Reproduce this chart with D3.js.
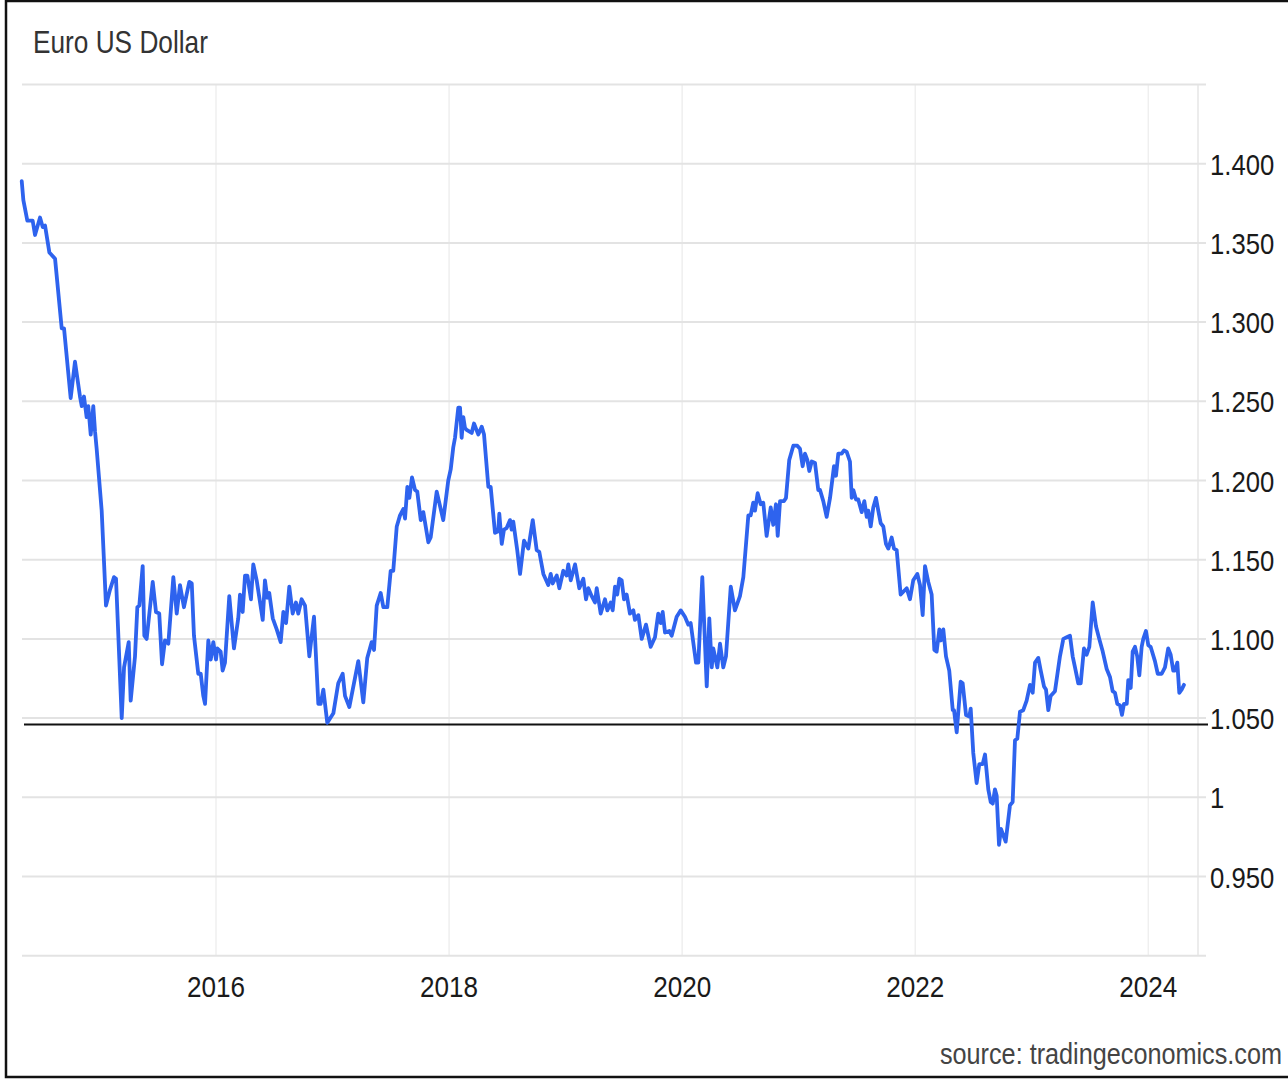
<!DOCTYPE html>
<html lang="en">
  <head>
    <meta charset="utf-8" />
    <title>Euro US Dollar</title>
    <script src="https://cdnjs.cloudflare.com/ajax/libs/d3/7.8.5/d3.min.js"></script>
    <style>
      body {
        margin: 0;
        background: #fff;
        font-family: "Liberation Sans", Arial, sans-serif;
      }
    </style>
  </head>
  <body>
    <div id="chart"></div>
    <script>
      // decimal years and EUR/USD close
      const years = [
        2014.333, 2014.347, 2014.381, 2014.427, 2014.447, 2014.49, 2014.513, 2014.533, 2014.57, 2014.619,
        2014.676, 2014.696, 2014.753, 2014.79, 2014.833, 2014.848, 2014.867, 2014.89, 2014.904, 2014.925,
        2014.947, 2014.962, 2014.976, 2015.019, 2015.056, 2015.09, 2015.125, 2015.142, 2015.191, 2015.211,
        2015.251, 2015.268, 2015.305, 2015.325, 2015.342, 2015.371, 2015.385, 2015.405, 2015.457, 2015.485,
        2015.513, 2015.537, 2015.562, 2015.591, 2015.634, 2015.663, 2015.691, 2015.725, 2015.771, 2015.792,
        2015.811, 2015.848, 2015.869, 2015.891, 2015.906, 2015.934, 2015.955, 2015.977, 2016.0, 2016.011,
        2016.04, 2016.057, 2016.077, 2016.114, 2016.154, 2016.191, 2016.206, 2016.229, 2016.249, 2016.269,
        2016.3, 2016.32, 2016.349, 2016.401, 2016.42, 2016.44, 2016.457, 2016.487, 2016.521, 2016.555,
        2016.578, 2016.601, 2016.629, 2016.658, 2016.686, 2016.706, 2016.735, 2016.764, 2016.801, 2016.841,
        2016.878, 2016.898, 2016.921, 2016.955, 2017.007, 2017.049, 2017.087, 2017.107, 2017.144, 2017.221,
        2017.264, 2017.298, 2017.336, 2017.356, 2017.379, 2017.413, 2017.436, 2017.47, 2017.499, 2017.521,
        2017.551, 2017.579, 2017.607, 2017.622, 2017.642, 2017.659, 2017.682, 2017.708, 2017.727, 2017.757,
        2017.779, 2017.822, 2017.842, 2017.894, 2017.95, 2017.993, 2018.014, 2018.036, 2018.051, 2018.079,
        2018.094, 2018.108, 2018.122, 2018.137, 2018.151, 2018.194, 2018.214, 2018.251, 2018.28, 2018.3,
        2018.337, 2018.357, 2018.394, 2018.422, 2018.431, 2018.452, 2018.471, 2018.494, 2018.523, 2018.537,
        2018.551, 2018.585, 2018.609, 2018.643, 2018.68, 2018.718, 2018.752, 2018.774, 2018.809, 2018.851,
        2018.872, 2018.889, 2018.924, 2018.946, 2018.98, 2019.009, 2019.023, 2019.044, 2019.081, 2019.117,
        2019.152, 2019.175, 2019.195, 2019.224, 2019.252, 2019.267, 2019.301, 2019.338, 2019.358, 2019.387,
        2019.404, 2019.424, 2019.443, 2019.461, 2019.481, 2019.501, 2019.524, 2019.552, 2019.581, 2019.595,
        2019.624, 2019.653, 2019.69, 2019.73, 2019.767, 2019.795, 2019.816, 2019.833, 2019.853, 2019.89,
        2019.91, 2019.953, 2019.988, 2020.024, 2020.053, 2020.073, 2020.119, 2020.139, 2020.173, 2020.211,
        2020.233, 2020.254, 2020.267, 2020.302, 2020.325, 2020.353, 2020.376, 2020.417, 2020.453, 2020.496,
        2020.525, 2020.568, 2020.588, 2020.61, 2020.625, 2020.648, 2020.674, 2020.696, 2020.725, 2020.76,
        2020.782, 2020.805, 2020.82, 2020.84, 2020.874, 2020.891, 2020.919, 2020.954, 2020.988, 2021.011,
        2021.034, 2021.054, 2021.074, 2021.091, 2021.112, 2021.14, 2021.168, 2021.183, 2021.211, 2021.24,
        2021.269, 2021.303, 2021.32, 2021.34, 2021.369, 2021.389, 2021.412, 2021.44, 2021.455, 2021.469,
        2021.492, 2021.511, 2021.541, 2021.563, 2021.584, 2021.597, 2021.618, 2021.64, 2021.663, 2021.683,
        2021.704, 2021.726, 2021.749, 2021.769, 2021.798, 2021.818, 2021.841, 2021.875, 2021.927, 2021.955,
        2021.983, 2022.018, 2022.041, 2022.064, 2022.084, 2022.112, 2022.141, 2022.164, 2022.184, 2022.207,
        2022.221, 2022.241, 2022.264, 2022.292, 2022.322, 2022.333, 2022.356, 2022.39, 2022.407, 2022.436,
        2022.464, 2022.476, 2022.498, 2022.527, 2022.55, 2022.579, 2022.599, 2022.627, 2022.648, 2022.665,
        2022.684, 2022.699, 2022.719, 2022.736, 2022.776, 2022.813, 2022.836, 2022.856, 2022.876, 2022.899,
        2022.927, 2022.956, 2022.985, 2023.008, 2023.028, 2023.056, 2023.077, 2023.105, 2023.122, 2023.142,
        2023.162, 2023.199, 2023.242, 2023.271, 2023.3, 2023.328, 2023.351, 2023.371, 2023.399, 2023.42,
        2023.448, 2023.471, 2023.494, 2023.523, 2023.551, 2023.579, 2023.609, 2023.643, 2023.671, 2023.694,
        2023.714, 2023.734, 2023.757, 2023.774, 2023.791, 2023.815, 2023.828, 2023.849, 2023.866, 2023.886,
        2023.905, 2023.923, 2023.943, 2023.957, 2023.98, 2024.0, 2024.02, 2024.057, 2024.081, 2024.115,
        2024.143, 2024.171, 2024.192, 2024.214, 2024.229, 2024.249, 2024.266, 2024.286, 2024.306
      ];
      const rates = [
        1.389, 1.377, 1.364, 1.364, 1.355, 1.366, 1.36, 1.361, 1.344, 1.34,
        1.296, 1.296, 1.252, 1.275, 1.253, 1.247, 1.253, 1.24, 1.247, 1.229,
        1.247, 1.231, 1.22, 1.181, 1.121, 1.131, 1.139, 1.138, 1.05, 1.082,
        1.098, 1.061, 1.089, 1.12, 1.121, 1.146, 1.102, 1.1, 1.136, 1.117,
        1.116, 1.084, 1.099, 1.097, 1.139, 1.116, 1.134, 1.12, 1.136, 1.135,
        1.102, 1.078, 1.078, 1.064, 1.059, 1.099, 1.087, 1.098, 1.087, 1.094,
        1.092, 1.08, 1.085, 1.127, 1.094, 1.113, 1.128, 1.117, 1.14, 1.14,
        1.125, 1.147, 1.137, 1.112, 1.137, 1.126, 1.129, 1.113, 1.106, 1.098,
        1.117, 1.11, 1.133, 1.116, 1.123, 1.116, 1.125, 1.121, 1.089, 1.114,
        1.059, 1.059, 1.068, 1.047, 1.053, 1.072, 1.078, 1.064, 1.057, 1.086,
        1.06, 1.088, 1.098, 1.093, 1.121, 1.129, 1.12, 1.12, 1.143, 1.143,
        1.171, 1.178, 1.182, 1.176, 1.196, 1.189, 1.202, 1.194, 1.193, 1.175,
        1.18, 1.161, 1.164, 1.193, 1.175, 1.2, 1.207, 1.221, 1.227, 1.246,
        1.246, 1.227, 1.24, 1.233, 1.232, 1.23, 1.236, 1.229, 1.234, 1.229,
        1.196, 1.196, 1.167, 1.168, 1.179, 1.16, 1.169, 1.17, 1.175, 1.169,
        1.174, 1.156, 1.141, 1.162, 1.157, 1.175, 1.156, 1.155, 1.141, 1.134,
        1.141, 1.135, 1.14, 1.132, 1.143, 1.14, 1.147, 1.137, 1.147, 1.132,
        1.138, 1.125, 1.132, 1.127, 1.123, 1.132, 1.116, 1.125, 1.118, 1.123,
        1.118, 1.133, 1.128, 1.138, 1.137, 1.125, 1.128, 1.116, 1.118, 1.112,
        1.115, 1.1, 1.109, 1.095, 1.101, 1.116, 1.11, 1.117, 1.104, 1.105,
        1.102, 1.114, 1.118, 1.114, 1.109, 1.11, 1.085, 1.085, 1.139, 1.07,
        1.113, 1.082, 1.094, 1.082, 1.097, 1.082, 1.089, 1.133, 1.118, 1.127,
        1.139, 1.178, 1.178, 1.186, 1.181, 1.192, 1.185, 1.186, 1.165, 1.183,
        1.172, 1.185, 1.165, 1.187, 1.187, 1.189, 1.213, 1.222, 1.222, 1.22,
        1.209, 1.217, 1.213, 1.206, 1.212, 1.211, 1.194, 1.194, 1.187, 1.177,
        1.189, 1.209, 1.203, 1.217, 1.217, 1.219, 1.218, 1.212, 1.189, 1.194,
        1.188, 1.188, 1.18, 1.187, 1.177, 1.181, 1.171, 1.183, 1.189, 1.181,
        1.173, 1.171, 1.16, 1.157, 1.164, 1.157, 1.156, 1.128, 1.132, 1.125,
        1.137, 1.141, 1.134, 1.115, 1.146, 1.136, 1.128, 1.093, 1.092, 1.106,
        1.099, 1.106, 1.089, 1.08, 1.055, 1.055, 1.041, 1.073, 1.072, 1.052,
        1.051, 1.056, 1.028, 1.009, 1.021, 1.021, 1.027, 1.005, 0.997, 0.996,
        1.005, 1.001, 0.97, 0.98, 0.972, 0.995, 0.997, 1.036, 1.037, 1.054,
        1.055, 1.061, 1.071, 1.066, 1.085, 1.088, 1.08, 1.07, 1.068, 1.055,
        1.064, 1.067, 1.089, 1.1, 1.101, 1.102, 1.089, 1.082, 1.072, 1.072,
        1.094, 1.09, 1.095, 1.123, 1.108, 1.1, 1.092, 1.081, 1.076, 1.067,
        1.066, 1.059, 1.058, 1.052, 1.059, 1.059, 1.074, 1.069, 1.092, 1.095,
        1.089, 1.077, 1.095, 1.1, 1.105, 1.096, 1.095, 1.086, 1.078, 1.078,
        1.082, 1.094, 1.09, 1.08, 1.08, 1.085, 1.066, 1.068, 1.071
      ];
      const gridValues = [0.9, 0.95, 1, 1.05, 1.1, 1.15, 1.2, 1.25, 1.3, 1.35, 1.4, 1.45];
      const yTickValues = [0.95, 1, 1.05, 1.1, 1.15, 1.2, 1.25, 1.3, 1.35, 1.4];
      const xTickValues = [2016, 2018, 2020, 2022, 2024];
      const refLevel = 1.046;

      const W = 1288, H = 1079;
      const plotLeft = 22, plotRight = 1198, plotTop = 84.5, plotBottom = 955.7;
      const squeeze = 0.87;

      const svg = d3.select("#chart").append("svg")
        .attr("width", W).attr("height", H);

      const x = d3.scaleLinear().domain([2016, 2024]).range([216, 1148.3]);
      const y = d3.scaleLinear().domain([0.9, 1.45]).range([plotBottom, plotTop]);

      // frame
      svg.append("rect")
        .attr("x", 6).attr("y", 1)
        .attr("width", W).attr("height", 1076)
        .attr("fill", "none").attr("stroke", "#111").attr("stroke-width", 2.5);

      // vertical year gridlines
      svg.selectAll(".vgrid").data(xTickValues).enter().append("line")
        .attr("x1", d => x(d)).attr("x2", d => x(d))
        .attr("y1", plotTop).attr("y2", plotBottom)
        .attr("stroke", "#efefef").attr("stroke-width", 1.5);

      svg.append("line")
        .attr("x1", plotRight).attr("x2", plotRight)
        .attr("y1", plotTop).attr("y2", plotBottom)
        .attr("stroke", "#e6e6e6").attr("stroke-width", 1.5);

      // horizontal gridlines, run a little past the plot as ticks
      svg.selectAll(".hgrid").data(gridValues).enter().append("line")
        .attr("x1", plotLeft).attr("x2", 1206)
        .attr("y1", d => y(d)).attr("y2", d => y(d))
        .attr("stroke", "#e3e3e3").attr("stroke-width", 2);

      // y labels
      const fmt = d3.format(".3f");
      svg.selectAll(".ylab").data(yTickValues).enter().append("text")
        .attr("transform", d => `translate(1210,${y(d) + 11}) scale(${squeeze},1)`)
        .attr("font-size", 29.5)
        .attr("fill", "#1a1a1a")
        .text(d => (d === 1 ? "1" : fmt(d)));

      // x labels
      svg.selectAll(".xlab").data(xTickValues).enter().append("text")
        .attr("transform", d => `translate(${x(d)},997) scale(${squeeze},1)`)
        .attr("text-anchor", "middle")
        .attr("font-size", 30)
        .attr("fill", "#1a1a1a")
        .text(d => d);

      // reference level
      svg.append("line")
        .attr("x1", plotLeft + 2).attr("x2", 1208)
        .attr("y1", y(refLevel)).attr("y2", y(refLevel))
        .attr("stroke", "#111").attr("stroke-width", 2);

      // series
      const series = years.map((t, i) => ({ t, v: rates[i] }));
      const line = d3.line().x(d => x(d.t)).y(d => y(d.v));
      svg.append("path")
        .datum(series)
        .attr("d", line)
        .attr("fill", "none")
        .attr("stroke", "#2e63ee")
        .attr("stroke-width", 3.8)
        .attr("stroke-linejoin", "round")
        .attr("stroke-linecap", "round");

      // title
      svg.append("text")
        .attr("transform", `translate(33,53) scale(0.86,1)`)
        .attr("font-size", 30.5)
        .attr("fill", "#333")
        .text("Euro US Dollar");

      // source
      svg.append("text")
        .attr("transform", `translate(1282,1064) scale(${squeeze},1)`)
        .attr("text-anchor", "end")
        .attr("font-size", 29)
        .attr("fill", "#444")
        .text("source: tradingeconomics.com");
    </script>
  </body>
</html>
